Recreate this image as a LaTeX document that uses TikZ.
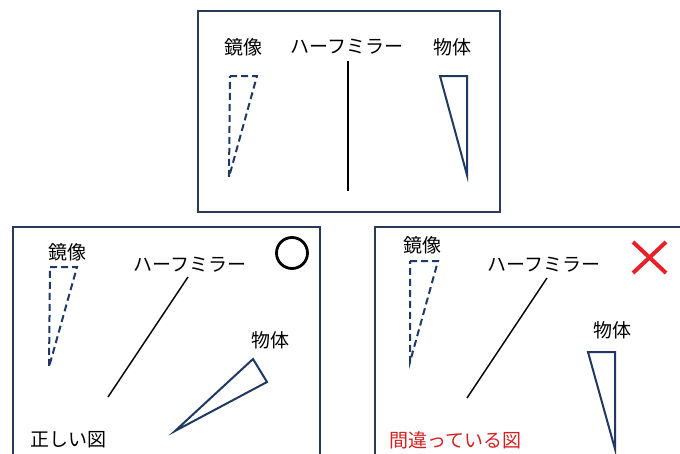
\documentclass[tikz,border=0pt]{standalone}
\usepackage{fontspec}
\newfontfamily\jp{Noto Sans CJK JP}
\definecolor{boxc}{HTML}{2B3A55}
\definecolor{navy}{HTML}{1F3864}
\definecolor{xred}{HTML}{E8202A}
\definecolor{tred}{HTML}{D42020}
\tikzset{
  frame/.style={draw=boxc,line width=1.8pt},
  lbl/.style={font=\jp\fontsize{19}{19}\selectfont,inner sep=0pt},
  img/.style={draw=navy,line width=2pt,dash pattern=on 7pt off 4pt,line join=miter},
  obj/.style={draw=navy,line width=2pt,line join=miter},
  mirror/.style={draw=black,line width=1.5pt},
}
\begin{document}
\begin{tikzpicture}[x=1pt,y=-1pt]
\useasboundingbox (0,0) rectangle (680,453);
\clip (0,0) rectangle (680,453);
% top panel
\draw[frame] (198,11) rectangle (500,212);
\node[lbl] (t1) at (243,47) {鏡像};
\node[lbl] (t2) at (347,47) {ハーフミラー};
\node[lbl] (t3) at (452,47) {物体};
\draw[img] (230,76) -- (257,76) -- (229,177) -- cycle;
\coordinate (tm1) at (348,61);
\coordinate (tm2) at (348,191);
\draw[mirror] (tm1) -- (tm2);
\draw[obj] (440,76) -- (467,76) -- (467,175) -- cycle;
% bottom-left panel
\draw[frame] (13,227) rectangle (320,470);
\node[lbl] (l1) at (67,252) {鏡像};
\node[lbl] (l2) at (190,265) {ハーフミラー};
\node[lbl] (l3) at (270,340) {物体};
\node[lbl,anchor=west] (l4) at (30,440) {正しい図};
\draw[img] (50,267) -- (77,267) -- (49,367) -- cycle;
\coordinate (lm1) at (188,277);
\coordinate (lm2) at (108,397);
\draw[mirror] (lm1) -- (lm2);
\draw[obj] (253,359) -- (267,382) -- (175,431) -- cycle;
\draw[black,line width=2.8pt] (292,253) circle (15.5);
% bottom-right panel
\draw[frame] (375,227) rectangle (700,470);
\node[lbl] (r1) at (422,245) {鏡像};
\node[lbl] (r2) at (544,265) {ハーフミラー};
\node[lbl] (r3) at (612,330) {物体};
\node[lbl,anchor=west,text=tred] (r4) at (389,440) {間違っている図};
\draw[img] (410,261) -- (438,261) -- (410,362) -- cycle;
\coordinate (rm1) at (547,278);
\coordinate (rm2) at (467,398);
\draw[mirror] (rm1) -- (rm2);
\draw[obj] (588,352) -- (615,352) -- (615,449) -- cycle;
\draw[xred,line width=4pt] (633,242) -- (666,273) (666,242) -- (633,273);
\end{tikzpicture}
\end{document}
